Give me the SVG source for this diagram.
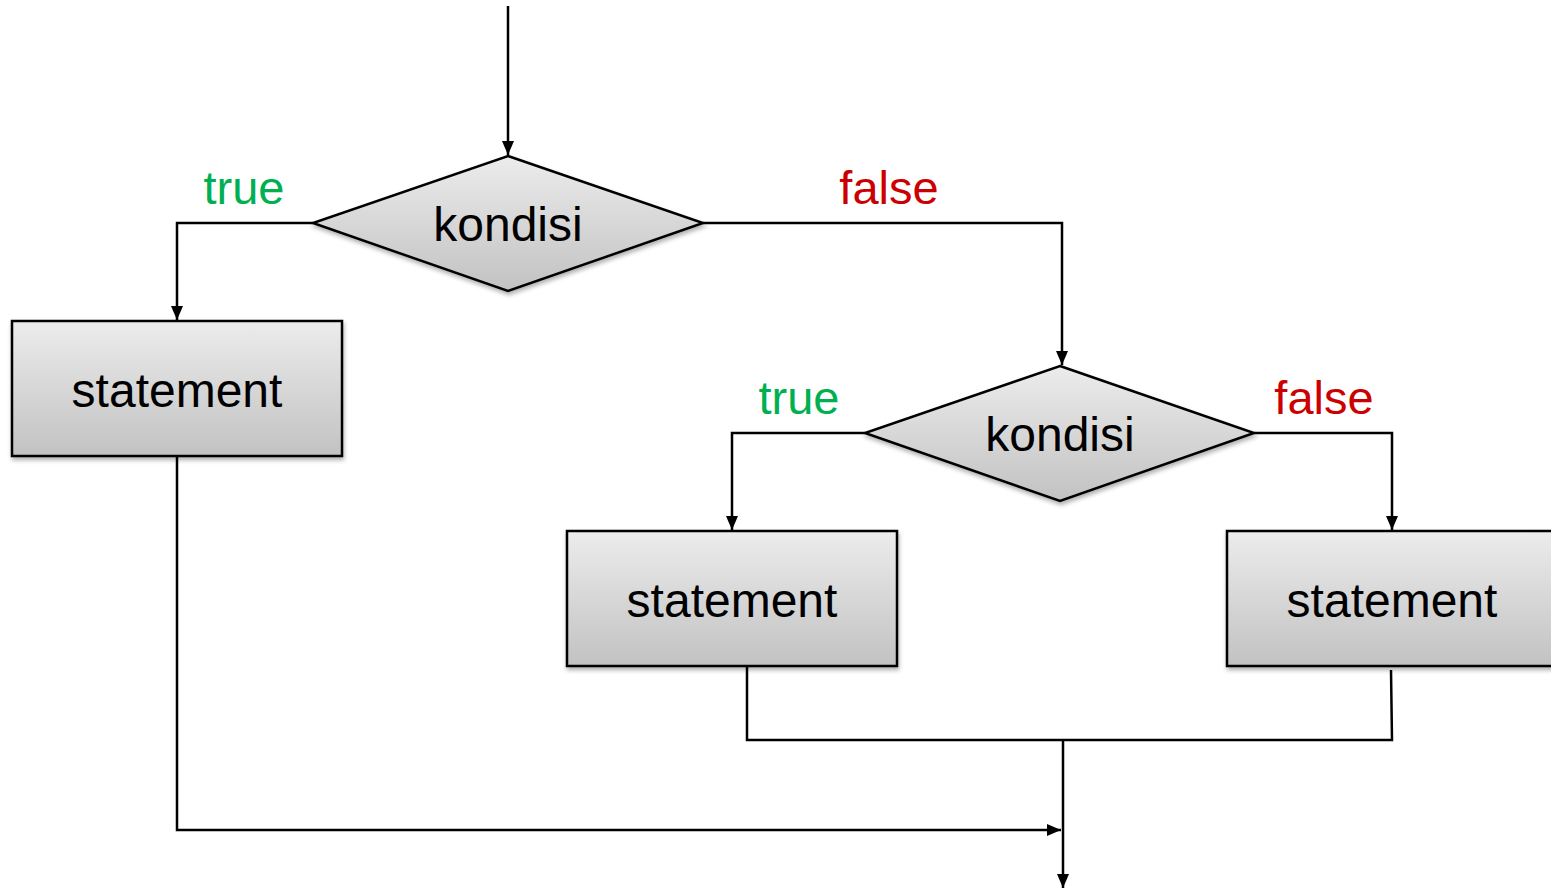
<svg xmlns="http://www.w3.org/2000/svg" width="1551" height="890" viewBox="0 0 1551 890">
  <style>
    .shape { fill: url(#boxFill); stroke: #000; stroke-width: 2.5; filter: url(#shadow); }
    .label { font-family: "Liberation Sans", Arial, sans-serif; font-size: 48px; fill: #000; text-anchor: middle; }
    .yes { font-family: "Liberation Sans", Arial, sans-serif; font-size: 47px; fill: #00B050; text-anchor: middle; }
    .no { font-family: "Liberation Sans", Arial, sans-serif; font-size: 47px; fill: #CC0000; text-anchor: middle; }
    .wire { fill: none; stroke: #000; stroke-width: 2.5; }
  </style>
  <defs>
    <linearGradient id="boxFill" x1="0" y1="0" x2="0" y2="1">
      <stop offset="0" stop-color="#ececec"/>
      <stop offset="1" stop-color="#c2c2c2"/>
    </linearGradient>
    <filter id="shadow" x="-10%" y="-10%" width="120%" height="130%">
      <feDropShadow dx="1" dy="3" stdDeviation="2" flood-color="#000" flood-opacity="0.3"/>
    </filter>
    <marker id="arrow" viewBox="0 0 14 12" refX="14" refY="6" markerWidth="14" markerHeight="12" markerUnits="userSpaceOnUse" orient="auto">
      <path d="M0,0 L14,6 L0,12 Z" fill="#000"/>
    </marker>
  </defs>

  <g id="connectors">
    <path class="wire" d="M508,6 V155" marker-end="url(#arrow)"/>
    <path class="wire" d="M313,223 H177 V320" marker-end="url(#arrow)"/>
    <path class="wire" d="M703,223 H1062 V365" marker-end="url(#arrow)"/>
    <path class="wire" d="M865,433 H732 V530" marker-end="url(#arrow)"/>
    <path class="wire" d="M1254,433 H1392 V530" marker-end="url(#arrow)"/>
    <path class="wire" d="M177,456 V830 H1061" marker-end="url(#arrow)"/>
    <path class="wire" d="M747,666 V740 H1392 L1391,670"/>
    <path class="wire" d="M1063,740 V888" marker-end="url(#arrow)"/>
  </g>

  <g id="label-true-1"><text class="yes" x="244" y="204">true</text></g>
  <g id="label-false-1"><text class="no" x="889" y="204">false</text></g>
  <g id="label-true-2"><text class="yes" x="799" y="414">true</text></g>
  <g id="label-false-2"><text class="no" x="1324" y="414">false</text></g>

  <g id="decision-1">
    <polygon class="shape" points="508,156 703,223 508,291 313,223"/>
    <text class="label" x="508" y="241">kondisi</text>
  </g>

  <g id="decision-2">
    <polygon class="shape" points="1060,366 1254,433 1060,501 865,433"/>
    <text class="label" x="1060" y="451">kondisi</text>
  </g>

  <g id="statement-1">
    <rect class="shape" x="12" y="321" width="330" height="135"/>
    <text class="label" x="177" y="407">statement</text>
  </g>

  <g id="statement-2">
    <rect class="shape" x="567" y="531" width="330" height="135"/>
    <text class="label" x="732" y="617">statement</text>
  </g>

  <g id="statement-3">
    <rect class="shape" x="1227" y="531" width="330" height="135"/>
    <text class="label" x="1392" y="617">statement</text>
  </g>
</svg>
